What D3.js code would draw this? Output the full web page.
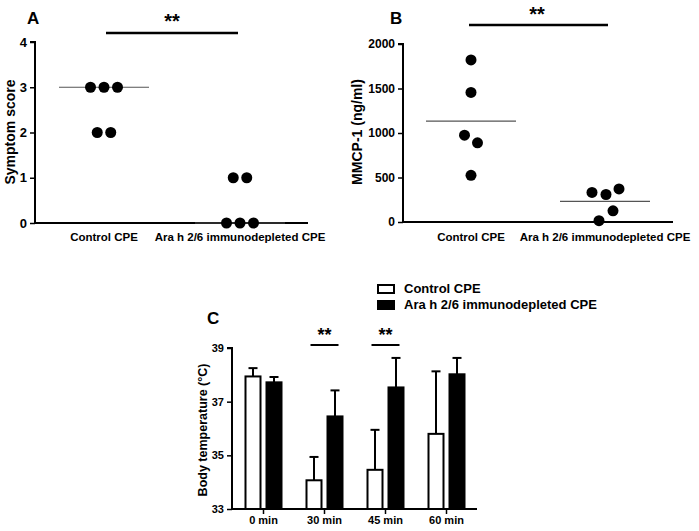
<!DOCTYPE html>
<html><head><meta charset="utf-8">
<script src="https://cdn.jsdelivr.net/npm/d3@7/dist/d3.min.js"></script>
<style>body{margin:0;background:#fff}svg{display:block}text{font-family:"Liberation Sans",Arial,sans-serif;fill:#000}</style>
</head><body>
<svg id="c" width="699" height="531"></svg>
<script>
// Panel A data
const groupsAB = ["Control CPE", "Ara h 2/6 immunodepleted CPE"];
const symptomControl = [3, 3, 3, 2, 2];
const symptomDepleted = [1, 1, 0, 0, 0];
const symptomMedians = [3, 0];
const symptomTicks = [0, 1, 2, 3, 4];
// Panel B data
const mmcpControl = [1821, 1456, 975, 890, 525];
const mmcpDepleted = [332, 309, 372, 126, 15];
const mmcpMeans = [1133, 231];
const mmcpTicks = [0, 500, 1000, 1500, 2000];
// Panel C data
const timepoints = ["0 min", "30 min", "45 min", "60 min"];
const tempControl = [37.94, 34.07, 34.46, 35.80];
const tempControlErr = [0.31, 0.87, 1.49, 2.33];
const tempDepleted = [37.72, 36.45, 37.53, 38.02];
const tempDepletedErr = [0.20, 0.97, 1.10, 0.61];
const tempTicks = [33, 35, 37, 39];
const sigTimepoints = ["30 min", "45 min"];

const svg = d3.select("#c");
const fmt = d3.format("d");

function styleText(sel, size){ return sel.style("font-weight","bold").style("font-size", size).style("font-family","'Liberation Sans',Arial,sans-serif"); }

function spread(vals){
  const counts = {}; const idx = {};
  vals.forEach(v=>counts[v]=(counts[v]||0)+1);
  return vals.map(v=>{ idx[v]=(idx[v]||0); const n=counts[v]; const o=(idx[v]-(n-1)/2)*13.5; idx[v]++; return o; });
}

// ---------- Panel A ----------
{
  const x = d3.scalePoint().domain(groupsAB).range([104, 240]);
  const y = d3.scaleLinear().domain([0,4]).range([223, 42]);
  const g = svg.append("g");
  const ya = g.append("g").attr("transform","translate(35,0)").call(d3.axisLeft(y).tickValues(symptomTicks).tickFormat(fmt).tickSize(5).tickPadding(3));
  ya.select(".domain").attr("stroke-width",2).attr("d","M-5,42H0V223");
  ya.selectAll(".tick line").attr("stroke-width",1.5);
  styleText(ya.selectAll(".tick text"),"13px");
  g.append("line").attr("x1",35).attr("x2",308).attr("y1",223).attr("y2",223).attr("stroke","#000").attr("stroke-width",2);
  g.selectAll(".med").data(symptomMedians).join("line")
    .attr("x1",(d,i)=>x(groupsAB[i])-45).attr("x2",(d,i)=>x(groupsAB[i])+45)
    .attr("y1",d=>y(d)).attr("y2",d=>y(d)).attr("stroke","#555").attr("stroke-width",1.2);
  [symptomControl, symptomDepleted].forEach((vals,i)=>{
    const off = spread(vals);
    g.selectAll(null).data(vals).join("circle")
      .attr("cx",(d,j)=>x(groupsAB[i])+off[j]).attr("cy",d=>y(d)).attr("r",5.5).attr("fill","#000");
  });
  styleText(g.selectAll(".cat").data(groupsAB).join("text").attr("x",d=>x(d)).attr("y",241).attr("text-anchor","middle"),"11.5px").text(d=>d);
  styleText(g.append("text").attr("transform","translate(15,132) rotate(-90)").attr("text-anchor","middle"),"14px").text("Symptom score");
  styleText(g.append("text").attr("x",27).attr("y",24),"17px").text("A");
  g.append("line").attr("x1",106).attr("x2",238).attr("y1",33).attr("y2",33).attr("stroke","#000").attr("stroke-width",2.5);
  styleText(g.append("text").attr("x",172).attr("y",28).attr("text-anchor","middle"),"20px").text("**");
}

// ---------- Panel B ----------
{
  const x = d3.scalePoint().domain(groupsAB).range([471, 605]);
  const y = d3.scaleLinear().domain([0,2000]).range([222, 44]);
  const g = svg.append("g");
  const ya = g.append("g").attr("transform","translate(403,0)").call(d3.axisLeft(y).tickValues(mmcpTicks).tickFormat(fmt).tickSize(5).tickPadding(3));
  ya.select(".domain").attr("stroke-width",2).attr("d","M-5,44H0V222");
  ya.selectAll(".tick line").attr("stroke-width",1.5);
  styleText(ya.selectAll(".tick text"),"12px");
  g.append("line").attr("x1",403).attr("x2",673).attr("y1",222).attr("y2",222).attr("stroke","#000").attr("stroke-width",2);
  g.selectAll(".mean").data(mmcpMeans).join("line")
    .attr("x1",(d,i)=>x(groupsAB[i])-45).attr("x2",(d,i)=>x(groupsAB[i])+45)
    .attr("y1",d=>y(d)).attr("y2",d=>y(d)).attr("stroke","#555").attr("stroke-width",1.2);
  const offC = [0, 0, -6.5, 6.5, 0];
  const offD = [-13, 1, 14, 8, -6];
  [[mmcpControl,offC],[mmcpDepleted,offD]].forEach(([vals,off],i)=>{
    g.selectAll(null).data(vals).join("circle")
      .attr("cx",(d,j)=>x(groupsAB[i])+off[j]).attr("cy",d=>y(d)).attr("r",5.5).attr("fill","#000");
  });
  styleText(g.selectAll(".cat").data(groupsAB).join("text").attr("x",d=>x(d)).attr("y",241).attr("text-anchor","middle"),"11.5px").text(d=>d);
  styleText(g.append("text").attr("transform","translate(362,132) rotate(-90)").attr("text-anchor","middle"),"14px").text("MMCP-1 (ng/ml)");
  styleText(g.append("text").attr("x",390).attr("y",24),"17px").text("B");
  g.append("line").attr("x1",469).attr("x2",608).attr("y1",25).attr("y2",25).attr("stroke","#000").attr("stroke-width",2.5);
  styleText(g.append("text").attr("x",537).attr("y",21).attr("text-anchor","middle"),"20px").text("**");
}

// ---------- Panel C ----------
{
  const x0 = d3.scaleBand().domain(timepoints).range([233, 477]).paddingInner(0.3).paddingOuter(0.15);
  const y = d3.scaleLinear().domain([33,39]).range([509, 348]);
  const g = svg.append("g");
  const bw = 17, gap = 4;
  const series = [
    {vals: tempControl, err: tempControlErr, fill: "#fff", dx: -(bw+gap)/2},
    {vals: tempDepleted, err: tempDepletedErr, fill: "#000", dx: (bw+gap)/2}
  ];
  const cx = d => x0(d) + x0.bandwidth()/2;
  series.forEach(s=>{
    const gg = g.append("g");
    gg.selectAll(".e").data(timepoints).join("line")
      .attr("x1",(d)=>cx(d)+s.dx).attr("x2",(d)=>cx(d)+s.dx)
      .attr("y1",(d,i)=>y(s.vals[i])).attr("y2",(d,i)=>y(s.vals[i]+s.err[i])).attr("stroke","#000").attr("stroke-width",2);
    gg.selectAll(".c").data(timepoints).join("line")
      .attr("x1",(d)=>cx(d)+s.dx-4.5).attr("x2",(d)=>cx(d)+s.dx+4.5)
      .attr("y1",(d,i)=>y(s.vals[i]+s.err[i])).attr("y2",(d,i)=>y(s.vals[i]+s.err[i])).attr("stroke","#000").attr("stroke-width",2);
    gg.selectAll("rect").data(timepoints).join("rect")
      .attr("x",d=>cx(d)+s.dx-bw/2+1).attr("width",bw-2)
      .attr("y",(d,i)=>y(s.vals[i])).attr("height",(d,i)=>y(33)-y(s.vals[i]))
      .attr("fill",s.fill).attr("stroke","#000").attr("stroke-width",2);
  });
  const ya = g.append("g").attr("transform","translate(232,0)").call(d3.axisLeft(y).tickValues(tempTicks).tickFormat(fmt).tickSize(5).tickPadding(3));
  ya.select(".domain").attr("stroke-width",2).attr("d","M-5,348H0V509");
  ya.selectAll(".tick line").attr("stroke-width",1.5);
  styleText(ya.selectAll(".tick text"),"11px");
  const xa = g.append("g").attr("transform","translate(0,509)").call(d3.axisBottom(x0).tickSize(5).tickPadding(2));
  xa.select(".domain").attr("stroke-width",2).attr("d","M232,0H477");
  xa.selectAll(".tick line").attr("stroke-width",1.5);
  styleText(xa.selectAll(".tick text"),"11px");
  styleText(g.append("text").attr("transform","translate(207,430) rotate(-90)").attr("text-anchor","middle"),"12.5px").text("Body temperature (°C)");
  styleText(g.append("text").attr("x",207).attr("y",324),"17px").text("C");
  sigTimepoints.forEach(t=>{
    g.append("line").attr("x1",cx(t)-14).attr("x2",cx(t)+14).attr("y1",345).attr("y2",345).attr("stroke","#000").attr("stroke-width",2);
    styleText(g.append("text").attr("x",cx(t)).attr("y",341).attr("text-anchor","middle"),"18px").text("**");
  });
  const leg = g.append("g");
  const legItems = [{label:"Control CPE", fill:"#fff"},{label:"Ara h 2/6 immunodepleted CPE", fill:"#000"}];
  legItems.forEach((d,i)=>{
    leg.append("rect").attr("x",378).attr("y",285+i*16).attr("width",16).attr("height",8).attr("fill",d.fill).attr("stroke","#000").attr("stroke-width",2);
    styleText(leg.append("text").attr("x",404).attr("y",293+i*16),"13px").text(d.label);
  });
}
</script>
</body></html>
